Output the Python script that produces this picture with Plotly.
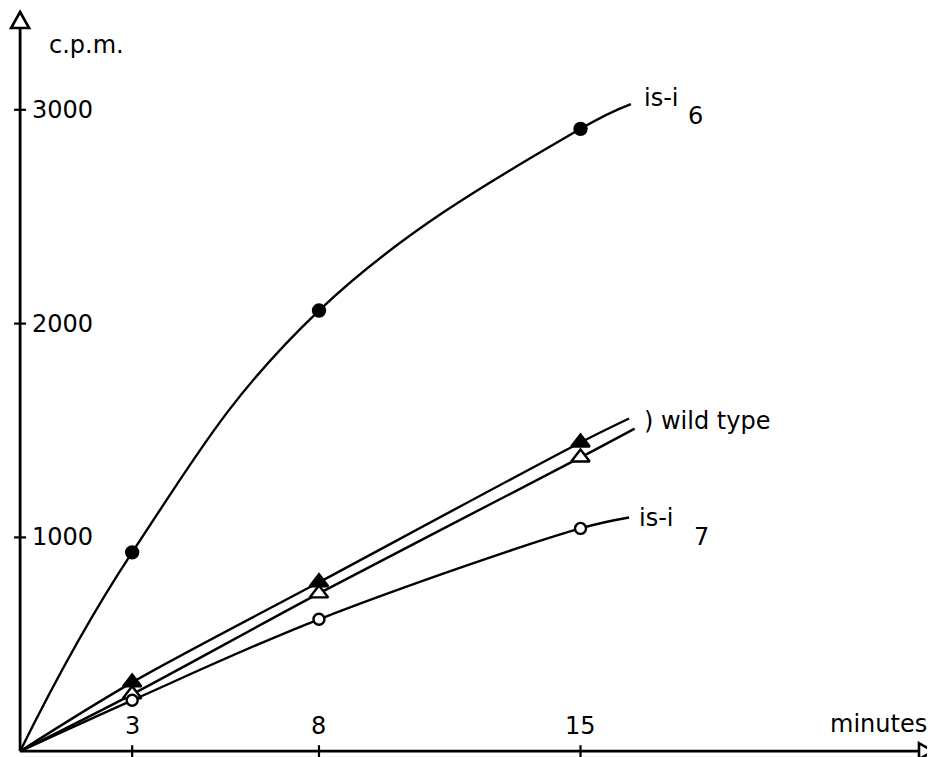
import plotly.graph_objects as go

# ---- data ----
minutes = [3, 8, 15]
is_i6 = [930, 2061, 2911]
wild_filled = [322, 790, 1444]
wild_open = [266, 738, 1374]
is_i7 = [238, 617, 1042]

# visible ends of the drawn curves (minutes, c.p.m.)
end_i6 = (16.35, 3027)
end_wild_filled = (16.3, 1556)
end_wild_open = (16.45, 1509)
end_i7 = (16.3, 1093)

x_ticks = [3, 8, 15]
x_tick_labels = ["3", "8", "15"]
y_ticks = [1000, 2000, 3000]
y_tick_labels = ["1000", "2000", "3000"]

# ---- screen pixel <-> data helpers (page has an 8px body margin) ----
OFF = 8
X0P, XS = 20.1, 37.36      # screen pixel of x=0, pixels per minute
Y0P, YS = 751.2, 0.2138    # screen pixel of y=0, pixels per c.p.m.


def px2x(p):
    return (p - X0P) / XS


def py2y(p):
    return (Y0P - p) / YS


W, H = 935, 757
FONT = dict(family="DejaVu Sans, sans-serif", size=24, color="black")
LW = 2.4

fig = go.Figure()


def curve(vals, end, symbol, size, filled, smooth):
    xs = [0] + minutes + [end[0]]
    ys = [0] + vals + [end[1]]
    fig.add_trace(go.Scatter(x=xs, y=ys, mode="lines",
                             line=dict(color="black", width=LW, shape="spline", smoothing=smooth),
                             hoverinfo="skip"))
    fig.add_trace(go.Scatter(x=minutes, y=vals, mode="markers",
                             marker=dict(symbol=symbol, size=size,
                                         color="black" if filled else "white",
                                         line=dict(color="black", width=2.4))))


curve(is_i6, end_i6, "circle", 12, True, 1.2)
curve(wild_open, end_wild_open, "triangle-up", 16, False, 0.9)
curve(wild_filled, end_wild_filled, "triangle-up", 16, True, 0.9)
curve(is_i7, end_i7, "circle", 11, False, 1.0)

shapes = []
ax_col = "black"
y_arrow_apex, y_arrow_base = py2y(12), py2y(28)
x_arrow_apex, x_arrow_base = px2x(933), px2x(919)
shapes.append(dict(type="line", x0=0, y0=0, x1=0, y1=y_arrow_base,
                   line=dict(color=ax_col, width=2.8)))
shapes.append(dict(type="line", x0=0, y0=0, x1=x_arrow_base, y1=0,
                   line=dict(color=ax_col, width=2.8)))
hw = 9 / XS
shapes.append(dict(type="path",
                   path=f"M {-hw} {y_arrow_base} L 0 {y_arrow_apex} L {hw} {y_arrow_base} Z",
                   fillcolor="white", line=dict(color=ax_col, width=2.6)))
hh = 8 / YS
shapes.append(dict(type="path",
                   path=f"M {x_arrow_base} {-hh} L {x_arrow_apex} 0 L {x_arrow_base} {hh} Z",
                   fillcolor="white", line=dict(color=ax_col, width=2.6)))

for t in x_ticks:
    shapes.append(dict(type="line", xref="x", yref="y", x0=t, x1=t,
                       ysizemode="pixel", yanchor=0, y0=-6, y1=6,
                       line=dict(color=ax_col, width=2.2)))
for t in y_ticks:
    shapes.append(dict(type="line", xref="x", yref="y", y0=t, y1=t,
                       xsizemode="pixel", xanchor=0, x0=-6, x1=6,
                       line=dict(color=ax_col, width=2.2)))

ann = []
for t, lab in zip(x_ticks, x_tick_labels):
    ann.append(dict(x=t, y=0, text=lab, showarrow=False, xanchor="center",
                    yanchor="middle", yshift=25, font=FONT))
for t, lab in zip(y_ticks, y_tick_labels):
    ann.append(dict(x=0, y=t, text=lab, showarrow=False, xanchor="left",
                    yanchor="middle", xshift=10, font=FONT))

ann.append(dict(x=px2x(47), y=py2y(45), text="c.p.m.", showarrow=False,
                xanchor="left", yanchor="middle", font=FONT))
ann.append(dict(x=px2x(929), y=py2y(724), text="minutes", showarrow=False,
                xanchor="right", yanchor="middle", font=FONT))

ann.append(dict(x=px2x(642), y=py2y(98), text="is-i", showarrow=False,
                xanchor="left", yanchor="middle", font=FONT))
ann.append(dict(x=px2x(686), y=py2y(116), text="6", showarrow=False,
                xanchor="left", yanchor="middle", font=FONT))
ann.append(dict(x=px2x(642), y=py2y(421), text=") wild type", showarrow=False,
                xanchor="left", yanchor="middle", font=FONT))
ann.append(dict(x=px2x(637), y=py2y(518), text="is-i", showarrow=False,
                xanchor="left", yanchor="middle", font=FONT))
ann.append(dict(x=px2x(692), y=py2y(537), text="7", showarrow=False,
                xanchor="left", yanchor="middle", font=FONT))

fig.update_layout(
    width=W, height=H,
    margin=dict(l=0, r=0, t=0, b=0),
    paper_bgcolor="white", plot_bgcolor="white",
    showlegend=False,
    xaxis=dict(visible=False, range=[px2x(OFF), px2x(OFF + W)], fixedrange=True),
    yaxis=dict(visible=False, range=[py2y(OFF + H), py2y(OFF)], fixedrange=True),
    shapes=shapes,
    annotations=ann,
)

fig.write_html("out.html")
